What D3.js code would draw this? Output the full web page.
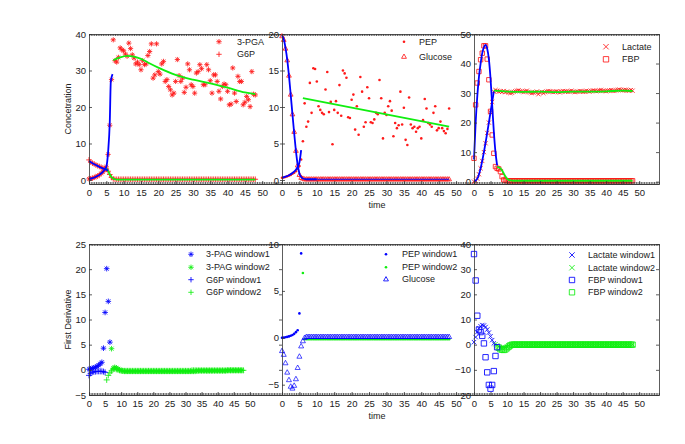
<!DOCTYPE html>
<html>
<head>
<meta charset="utf-8">
<title>derivatives</title>
<style>
  body { margin: 0; background: #fff; }
  svg { font-family: "Liberation Sans", Arial, sans-serif; }
  .lab { font-size: 9px; fill: #222; }
</style>
</head>
<body>
<svg id="chart" width="685" height="444"></svg>
<script src="https://cdnjs.cloudflare.com/ajax/libs/d3/7.8.5/d3.min.js"></script>
<script>
// sampling step of every series (time units)
const STEP = 0.5;
const xMajor = [0, 5, 10, 15, 20, 25, 30, 35, 40, 45, 50];

// ---------- top left : 3-PGA / G6P ----------
const pgaW1 = [0.3,0.4,0.5,0.7,0.9,1.1,1.4,1.8,2.2,2.8,3.6,7.0,15.0,27.5];   // t 0..6.5
const pgaW2 = [38.4,32.7,32.3,33.6,36.2,35.7,35.4,34.5,33.9,37.5,
  36.0,34.3,33.4,31.8,32.3,31.6,30.2,32.7,31.6,31.8,
  34.1,35.2,37.3,27.9,28.8,37.3,29.7,29.0,31.8,32.5,
  27.0,27.5,25.6,24.7,23.3,23.8,27.0,33.0,28.6,27.0,
  27.9,24.0,25.4,31.8,30.2,26.1,25.6,23.8,29.3,29.7,
  31.6,30.5,26.1,26.1,31.6,30.2,27.2,23.8,28.8,28.8,
  27.0,24.3,22.2,25.6,26.3,26.1,24.3,20.6,20.8,30.7,
  23.8,21.5,28.4,27.0,27.0,20.6,21.3,22.9,22.0,20.1,
  29.7,23.5,23.3];                                                        // t 7..48
const g6pHead = [5.5,4.9,4.6,4.4,4.1,3.9,3.7,3.5,3.3,3.1,3.0,2.4,1.5,0.7,0.3]; // t 0..7
const g6pTail = [0.2,0.2,0.2,0.2,0.2,0.2,0.2,0.2,0.2,0.2,
  0.2,0.2,0.2,0.2,0.2,0.2,0.2,0.2,0.2,0.2,
  0.2,0.2,0.2,0.2,0.2,0.2,0.2,0.2,0.2,0.2,
  0.2,0.2,0.2,0.2,0.2,0.2,0.2,0.2,0.2,0.2,
  0.2,0.2,0.2,0.2,0.2,0.2,0.2,0.2,0.2,0.2,
  0.2,0.2,0.2,0.2,0.2,0.2,0.2,0.2,0.2,0.2,
  0.2,0.2,0.2,0.2,0.2,0.2,0.2,0.2,0.2,0.2,
  0.2,0.2,0.2,0.2,0.2,0.2,0.2,0.2,0.2,0.2,
  0.2,0.2];                                                               // t 7.5..48
const pgaFit1T = [0,1,2,3,4,4.5,5,5.5,6,6.3,6.8];
const pgaFit1V = [0.3,0.5,0.9,1.4,2.2,2.8,3.6,7.5,16,27,29];
const pgaFit2T = [7,9,11,13,15,17,20,25,30,35,40,45,48];
const pgaFit2V = [32.8,33.6,34.0,33.8,33.2,32.2,30.8,28.8,27.5,26.5,25.3,24.0,23.5];
const g6pFit1T = [0,1,2,3,4,5,5.5];
const g6pFit1V = [5.2,4.6,4.1,3.6,3.2,2.8,2.6];
const g6pFit2T = [5,5.5,6,6.5,7,7.5,8,48];
const g6pFit2V = [3.2,2.5,1.5,0.8,0.4,0.2,0.1,0.1];

// ---------- top middle : PEP / Glucose ----------
const pepW1 = [0.3,0.35,0.4,0.5,0.6,0.7,0.85,1.0,1.2,1.5,1.9,2.8];          // t 0..5.5
const pepW2 = [5.3,10.5,7.3,8.0,13.3,9.2,15.3,15.2,13.5,10.1,
  9.6,9.2,9.0,12.4,14.8,9.3,10.7,4.9,9.6,10.8,
  9.2,13.0,8.8,15.0,14.6,14.0,8.6,8.5,11.0,11.7,
  6.9,10.1,6.2,14.1,12.1,7.3,7.9,12.7,11.2,7.9,
  7.8,8.3,9.2,9.0,13.7,11.2,5.7,9.2,8.9,10.1,
  10.8,9.5,6.0,7.8,7.1,7.5,12.1,7.6,9.9,5.5,
  4.8,11.3,7.6,7.1,7.3,6.6,7.1,7.3,5.7,8.2,
  11.1,9.8,7.8,7.6,7.3,9.2,10.1,6.8,7.1,8.0,
  7.1,6.7,6.4,7.0,9.8];                                                   // t 6..48
const glcHead = [19.7,19.2,18.0,16.4,14.3,11.7,9.0,6.6,4.0,2.0,0.7,0.3,0.2]; // t 0..6
const glcTail = [0.1,0.1,0.1,0.1,0.1,0.1,0.1,0.1,0.1,0.1,
  0.1,0.1,0.1,0.1,0.1,0.1,0.1,0.1,0.1,0.1,
  0.1,0.1,0.1,0.1,0.1,0.1,0.1,0.1,0.1,0.1,
  0.1,0.1,0.1,0.1,0.1,0.1,0.1,0.1,0.1,0.1,
  0.1,0.1,0.1,0.1,0.1,0.1,0.1,0.1,0.1,0.1,
  0.1,0.1,0.1,0.1,0.1,0.1,0.1,0.1,0.1,0.1,
  0.1,0.1,0.1,0.1,0.1,0.1,0.1,0.1,0.1,0.1,
  0.1,0.1,0.1,0.1,0.1,0.1,0.1,0.1,0.1,0.1,
  0.1,0.1,0.1,0.1];                                                       // t 6.5..48
const glcFit1T = [0,0.5,1,1.5,2,2.5,3,3.5,4,4.5,5,5.5,6,7,10];
const glcFit1V = [19.8,19.3,18.1,16.5,14.3,11.7,9.0,6.4,4.0,2.1,0.9,0.4,0.2,0.1,0.1];
const glcFit2T = [10,48];
const glcFit2V = [0.1,0.1];
const pepFit1T = [0,1,2,3,4,4.5,5,5.5];
const pepFit1V = [0.3,0.45,0.65,0.95,1.4,1.8,2.4,4.1];
const pepFit2T = [6,48];
const pepFit2V = [11.2,7.3];

// ---------- top right : Lactate / FBP ----------
const lacHead = [0.0,0.3,1.0,2.5,4.5,7.0,10.0,13.0,16.5,20.0,23.5,27.0,30.5]; // t 0..6
const lacTail = [31.0,30.8,30.5,30.6,30.4,30.7,30.3,30.5,30.2,30.0,
  30.1,30.4,30.6,30.8,30.9,30.7,30.5,30.3,30.6,30.8,
  30.4,30.2,30.0,30.1,30.3,30.5,29.6,30.2,30.4,30.0,
  30.3,30.5,30.7,30.6,30.4,30.3,30.5,30.6,30.4,30.2,
  30.5,30.7,30.6,30.5,30.4,30.6,30.8,30.5,30.3,30.4,
  30.5,30.7,30.6,30.4,30.5,30.8,30.6,30.5,30.7,30.9,
  30.8,30.6,30.7,30.9,31.0,30.8,30.7,30.6,30.8,30.9,
  31.0,30.8,30.7,30.9,31.1,31.2,31.0,30.9,31.0,31.1,
  30.9,30.8,31.0,30.8];                                                   // t 6.5..48
const fbpHead = [7.9,26.0,33.4,37.3,41.3,43.5,46.0,46.0,41.5,34.5,
  23.8,15.8,9.6,5.1,4.5,4.3,3.4,1.7,0.6,0.4];                              // t 0..9.5
const fbpTail = [0.3,0.3,0.3,0.3,0.3,0.3,0.3,0.3,0.3,0.3,
  0.3,0.3,0.3,0.3,0.3,0.3,0.3,0.3,0.3,0.3,
  0.3,0.3,0.3,0.3,0.3,0.3,0.3,0.3,0.3,0.3,
  0.3,0.3,0.3,0.3,0.3,0.3,0.3,0.3,0.3,0.3,
  0.3,0.3,0.3,0.3,0.3,0.3,0.3,0.3,0.3,0.3,
  0.3,0.3,0.3,0.3,0.3,0.3,0.3,0.3,0.3,0.3,
  0.3,0.3,0.3,0.3,0.3,0.3,0.3,0.3,0.3,0.3,
  0.3,0.3,0.3,0.3,0.3,0.3,0.3];                                           // t 10..48
const lacFit1T = [0,1,2,3,4,5,6];
const lacFit1V = [0,1,4.5,10,16.5,23.5,30.5];
const lacFit2T = [6,10,15,20,25,30,35,40,45,48];
const lacFit2V = [30.8,30.5,30.4,30.5,30.3,30.5,30.5,30.6,30.8,30.7];
const fbpFit1T = [0,0.5,1,1.5,2,2.5,3,3.5,4,4.5,5,5.5,6,6.5,7];
const fbpFit1V = [7.5,20,29,35.5,40,43.5,45.5,46.3,45,41.5,35,26,17,10,5.5];
const fbpFit2T = [7,7.5,8,8.5,9,9.5,10,10.5,11,12,48];
const fbpFit2V = [5,4.8,4.5,3.8,2.8,1.8,1.0,0.6,0.4,0.3,0.3];

// ---------- bottom left : first derivative 3-PAG / G6P ----------
const dPagW1 = [0.1,0.2,0.3,0.4,0.5,0.7,0.9,1.2,1.5,4.3,11.4,20.1,13.6,5.5]; // t 0..6.5
const dPagW2 = [4.2,0.3,0.5,0.4,0.2,0.0,-0.1,-0.2,-0.3,
  -0.3,-0.3,-0.3,-0.3,-0.3,-0.3,-0.3,-0.3,-0.3,-0.3,
  -0.3,-0.3,-0.3,-0.3,-0.3,-0.3,-0.3,-0.3,-0.3,-0.3,
  -0.3,-0.3,-0.3,-0.3,-0.3,-0.3,-0.3,-0.3,-0.3,-0.3,
  -0.3,-0.3,-0.3,-0.3,-0.3,-0.3,-0.3,-0.3,-0.3,-0.3,
  -0.3,-0.3,-0.3,-0.3,-0.2,-0.2,-0.2,-0.2,-0.2,-0.2,
  -0.2,-0.2,-0.2,-0.2,-0.2,-0.2,-0.2,-0.2,-0.2,-0.2,
  -0.2,-0.2,-0.2,-0.1,-0.1,-0.1,-0.1,-0.1,-0.1,-0.1,
  -0.1,-0.1,-0.1];                                                        // t 7..48
const dG6pW1 = [-1.1,-0.7,-0.5,-0.4,-0.35,-0.3,-0.3,-0.3,-0.3,-0.35,-0.5];    // t 0..5
const dG6pW2 = [-2.0,-1.1,-0.6,-0.2,0.1,0.2,0.1,0.0,-0.1,-0.2,
  -0.2,-0.2,-0.2,-0.2,-0.2,-0.2,-0.2,-0.2,-0.2,-0.2,
  -0.2,-0.2,-0.2,-0.2,-0.2,-0.2,-0.2,-0.2,-0.2,-0.2,
  -0.2,-0.2,-0.2,-0.2,-0.2,-0.2,-0.2,-0.2,-0.2,-0.2,
  -0.2,-0.2,-0.2,-0.2,-0.2,-0.2,-0.2,-0.2,-0.2,-0.2,
  -0.2,-0.2,-0.2,-0.1,-0.1,-0.1,-0.1,-0.1,-0.1,-0.1,
  -0.1,-0.1,-0.1,-0.1,-0.1,-0.1,-0.1,-0.1,-0.1,-0.1,
  -0.1,-0.1,-0.1,-0.1,-0.1,-0.1,-0.1,-0.1,-0.1,-0.1,
  -0.1,-0.1,-0.1,-0.1,-0.1,-0.1];                                         // t 5.5..48

// ---------- bottom middle : first derivative PEP / Glucose ----------
const dPepW1 = [0.0,0.02,0.05,0.1,0.15,0.22,0.3,0.42,0.6,0.8,2.6,9.0];       // t 0..5.5
const dPepW2 = [6.9,
  -0.15,-0.15,-0.15,-0.15,-0.15,-0.15,-0.15,-0.15,-0.15,-0.15,
  -0.15,-0.15,-0.15,-0.15,-0.15,-0.15,-0.15,-0.15,-0.15,-0.15,
  -0.15,-0.15,-0.15,-0.15,-0.15,-0.15,-0.15,-0.15,-0.15,-0.15,
  -0.15,-0.15,-0.15,-0.15,-0.15,-0.15,-0.15,-0.15,-0.15,-0.15,
  -0.15,-0.15,-0.15,-0.15,-0.15,-0.15,-0.15,-0.15,-0.15,-0.15,
  -0.15,-0.15,-0.15,-0.15,-0.15,-0.15,-0.15,-0.15,-0.15,-0.15,
  -0.15,-0.15,-0.15,-0.15,-0.15,-0.15,-0.15,-0.15,-0.15,-0.15,
  -0.15,-0.15,-0.15,-0.15,-0.15,-0.15,-0.15,-0.15,-0.15,-0.15,
  -0.15,-0.15,-0.15,-0.15];                                               // t 6..48
const dGlcHead = [-1.4,-1.8,-2.7,-3.7,-4.5,-5.2,-5.4,-5.1,-4.4,-3.2,-2.0,-0.9,-0.35,0.0,0.1]; // t 0..7
const dGlcTail = [0.1,0.1,0.1,0.1,0.1,0.1,0.1,0.1,0.1,0.1,
  0.1,0.1,0.1,0.1,0.1,0.1,0.1,0.1,0.1,0.1,
  0.1,0.1,0.1,0.1,0.1,0.1,0.1,0.1,0.1,0.1,
  0.1,0.1,0.1,0.1,0.1,0.1,0.1,0.1,0.1,0.1,
  0.1,0.1,0.1,0.1,0.1,0.1,0.1,0.1,0.1,0.1,
  0.1,0.1,0.1,0.1,0.1,0.1,0.1,0.1,0.1,0.1,
  0.1,0.1,0.1,0.1,0.1,0.1,0.1,0.1,0.1,0.1,
  0.1,0.1,0.1,0.1,0.1,0.1,0.1,0.1,0.1,0.1,
  0.1,0.1];                                                               // t 7.5..48

// ---------- bottom right : first derivative Lactate / FBP ----------
const dLacW1 = [1.0,3.0,5.0,6.5,7.3,7.8,7.6,7.0,6.0,4.8,3.3,1.8,0.5];          // t 0..6
const dLacW2 = [0.2,-0.3,-0.8,-1.2,-1.4,-1.3,-1.1,-0.8,-0.4,-0.1,
  0,0,0,0,0,0,0,0,0,0, 0,0,0,0,0,0,0,0,0,0,
  0,0,0,0,0,0,0,0,0,0, 0,0,0,0,0,0,0,0,0,0,
  0,0,0,0,0,0,0,0,0,0, 0,0,0,0,0,0,0,0,0,0,
  0,0,0,0,0,0,0,0,0,0, 0,0,0,0];                                          // t 6.5..48
const dFbpW1 = [36,25.5,11.5,6,5,3.5,0.5,-5,-11,-16,-17.5,-16,-10.5,-4.5,-1];  // t 0..7
const dFbpW2 = [-1.2,-1.8,-2.0,-2.1,-1.9,-1.4,-0.8,-0.3,
  0,0,0,0,0,0,0,0,0,0, 0,0,0,0,0,0,0,0,0,0,
  0,0,0,0,0,0,0,0,0,0, 0,0,0,0,0,0,0,0,0,0,
  0,0,0,0,0,0,0,0,0,0, 0,0,0,0,0,0,0,0,0,0,
  0,0,0,0,0,0,0,0,0,0, 0,0,0,0];                                          // t 7.5..48

const RED = "#ff1a1a", BLUE = "#0000ff", GREEN = "#10ee10";

function seq(start, vals) { return vals.map((v, i) => ({ t: start + i * STEP, v: v })); }
function knots(ts, vs) { return ts.map((t, i) => ({ t: t, v: vs[i] })); }

const panels = [
  { left: 89, right: 283, top: 34, bottom: 184, xMax: 56, yDom: [-1.1, 40], yTicks: [0, 10, 20, 30, 40],
    ylabel: "Concetration",
    marks: [
      { pts: seq(0, pgaW1).concat(seq(7, pgaW2)), sym: "star", c: RED, r: 2.6 },
      { pts: seq(0, g6pHead).concat(seq(7.5, g6pTail)), sym: "plus", c: RED, r: 2.8 }],
    lines: [
      { pts: knots(g6pFit2T, g6pFit2V), c: GREEN }, { pts: knots(pgaFit2T, pgaFit2V), c: GREEN },
      { pts: knots(pgaFit1T, pgaFit1V), c: BLUE }, { pts: knots(g6pFit1T, g6pFit1V), c: BLUE }],
    legend: { mx: 219, tx: 237, rows: [[41.7, "star", RED, "3-PGA"], [54.3, "plus", RED, "G6P"]] } },
  { left: 282, right: 477, top: 34, bottom: 184, xMax: 56, yDom: [-0.55, 20], yTicks: [0, 5, 10, 15, 20],
    xlabel: "time",
    marks: [
      { pts: seq(0, pepW1).concat(seq(6, pepW2)), sym: "dot", c: RED, r: 1.3 },
      { pts: seq(0, glcHead).concat(seq(6.5, glcTail)), sym: "tri", c: RED, r: 2.6 }],
    lines: [
      { pts: knots(pepFit2T, pepFit2V), c: GREEN }, { pts: knots(glcFit2T, glcFit2V), c: BLUE, w: 1 },
      { pts: knots(glcFit1T, glcFit1V), c: BLUE }, { pts: knots(pepFit1T, pepFit1V), c: BLUE }],
    legend: { mx: 404, tx: 419, rows: [[41.7, "dot", RED, "PEP"], [56.7, "tri", RED, "Glucose"]] } },
  { left: 474, right: 659, top: 34, bottom: 184, xMax: 56, yDom: [-0.8, 50], yTicks: [0, 10, 20, 30, 40, 50],
    marks: [
      { pts: seq(0, lacHead).concat(seq(6.5, lacTail)), sym: "cross", c: RED, r: 2.1 },
      { pts: seq(0, fbpHead).concat(seq(10, fbpTail)), sym: "square", c: RED, r: 2.2 }],
    lines: [
      { pts: knots(lacFit2T, lacFit2V), c: GREEN }, { pts: knots(fbpFit2T, fbpFit2V), c: GREEN },
      { pts: knots(lacFit1T, lacFit1V), c: BLUE }, { pts: knots(fbpFit1T, fbpFit1V), c: BLUE }],
    legend: { mx: 606, tx: 622, rows: [[46.7, "cross", RED, "Lactate"], [59.3, "square", RED, "FBP"]] } },
  { left: 89, right: 282, top: 244, bottom: 395, xMax: 60, yDom: [-5, 25], yTicks: [-5, 0, 5, 10, 15, 20, 25],
    ylabel: "First Derivative",
    marks: [
      { pts: seq(7, dPagW2), sym: "star", c: GREEN, r: 2.8 },
      { pts: seq(5.5, dG6pW2), sym: "plus", c: GREEN, r: 3 },
      { pts: seq(0, dG6pW1), sym: "plus", c: BLUE, r: 3 },
      { pts: seq(0, dPagW1), sym: "star", c: BLUE, r: 2.8 }],
    lines: [],
    legend: { mx: 191, tx: 206, rows: [[254.3, "star", BLUE, "3-PAG window1"], [267.3, "star", GREEN, "3-PAG window2"],
      [279.7, "plus", BLUE, "G6P window1"], [292.3, "plus", GREEN, "G6P window2"]] } },
  { left: 282, right: 477, top: 244, bottom: 395, xMax: 56, yDom: [-6.1, 10], yTicks: [-5, 0, 5, 10],
    xlabel: "time",
    marks: [
      { pts: seq(6, dPepW2), sym: "dot", c: GREEN, r: 1.3 },
      { pts: seq(0, dGlcHead).concat(seq(7.5, dGlcTail)), sym: "tri", c: BLUE, r: 2.8, sw: 0.7 },
      { pts: seq(0, dPepW1), sym: "dot", c: BLUE, r: 1.3 }],
    lines: [],
    legend: { mx: 386, tx: 402, rows: [[254.3, "dot", BLUE, "PEP window1"], [267.3, "dot", GREEN, "PEP window2"],
      [279.3, "tri", BLUE, "Glucose"]] } },
  { left: 474, right: 659, top: 244, bottom: 395, xMax: 56, yDom: [-20, 40], yTicks: [-20, -10, 0, 10, 20, 30, 40],
    marks: [
      { pts: seq(6.5, dLacW2), sym: "cross", c: GREEN, r: 2.2 },
      { pts: seq(7.5, dFbpW2), sym: "square", c: GREEN, r: 2.7 },
      { pts: seq(0, dLacW1), sym: "cross", c: BLUE, r: 2.2 },
      { pts: seq(0, dFbpW1), sym: "square", c: BLUE, r: 2.7 }],
    lines: [],
    legend: { mx: 572, tx: 588, rows: [[255, "cross", BLUE, "Lactate window1"], [267.7, "cross", GREEN, "Lactate window2"],
      [280, "square", BLUE, "FBP window1"], [292.3, "square", GREEN, "FBP window2"]] } }
];

function markerPath(type, r) {
  const d = r * 0.72;
  switch (type) {
    case "star": return `M${-r},0H${r}M0,${-r}V${r}M${-d},${-d}L${d},${d}M${-d},${d}L${d},${-d}`;
    case "plus": return `M${-r},0H${r}M0,${-r}V${r}`;
    case "cross": return `M${-r},${-r}L${r},${r}M${-r},${r}L${r},${-r}`;
    case "square": return `M${-r},${-r}H${r}V${r}H${-r}Z`;
    case "tri": return `M0,${-r}L${r * 0.9},${r * 0.6}L${-r * 0.9},${r * 0.6}Z`;
    default: return d3.symbol(d3.symbolCircle, Math.PI * r * r)();
  }
}

const svg = d3.select("#chart");

function drawPanel(p) {
  const x = d3.scaleLinear().domain([0, p.xMax]).range([p.left, p.right]);
  const y = d3.scaleLinear().domain(p.yDom).range([p.bottom, p.top]);
  const g = svg.append("g");

  g.append("rect")
    .attr("x", p.left).attr("y", p.top)
    .attr("width", p.right - p.left).attr("height", p.bottom - p.top)
    .attr("fill", "#fff");

  p.marks.forEach(m => {
    g.append("g").selectAll("path")
      .data(m.pts)
      .join("path")
      .attr("transform", d => `translate(${x(d.t)},${y(d.v)})`)
      .attr("d", markerPath(m.sym, m.r))
      .attr("fill", m.sym === "dot" ? m.c : "none")
      .attr("stroke", m.sym === "dot" ? "none" : m.c)
      .attr("stroke-width", m.sw || 0.85);
  });

  const line = d3.line().x(d => x(d.t)).y(d => y(d.v)).curve(d3.curveMonotoneX);
  p.lines.forEach(l => {
    g.append("path")
      .datum(l.pts)
      .attr("d", line)
      .attr("fill", "none")
      .attr("stroke", l.c)
      .attr("stroke-width", l.w || 1.8);
  });

  const minor = d3.range(0, p.xMax + 0.001, STEP);
  const axes = [
    g.append("g").attr("transform", `translate(0,${p.bottom})`)
      .call(d3.axisBottom(x).tickValues(xMajor).tickSize(-3).tickSizeOuter(0).tickPadding(5)),
    g.append("g").attr("transform", `translate(0,${p.bottom})`)
      .call(d3.axisBottom(x).tickValues(minor).tickSize(-2).tickSizeOuter(0).tickFormat("")),
    g.append("g").attr("transform", `translate(0,${p.top})`)
      .call(d3.axisTop(x).tickValues(minor).tickSize(-2).tickSizeOuter(0).tickFormat("")),
    g.append("g").attr("transform", `translate(${p.left},0)`)
      .call(d3.axisLeft(y).tickValues(p.yTicks).tickSize(-3).tickSizeOuter(0).tickPadding(3)),
    g.append("g").attr("transform", `translate(${p.right},0)`)
      .call(d3.axisRight(y).tickValues(p.yTicks).tickSize(-3).tickSizeOuter(0).tickFormat(""))
  ];
  axes.forEach(a => {
    a.selectAll("path, line").attr("stroke", "#333").attr("stroke-width", 0.8);
    a.selectAll("text").attr("class", "lab").attr("fill", "#222")
      .style("font-family", "Liberation Sans, Arial, sans-serif").style("font-size", "9.5px");
  });

  const lg = g.append("g");
  p.legend.rows.forEach(row => {
    const [yy, sym, c, label] = row;
    lg.append("path")
      .attr("transform", `translate(${p.legend.mx},${yy})`)
      .attr("d", markerPath(sym, sym === "dot" ? 1.3 : 2.7))
      .attr("fill", sym === "dot" ? c : "none")
      .attr("stroke", sym === "dot" ? "none" : c)
      .attr("stroke-width", 0.85);
    lg.append("text").attr("class", "lab")
      .attr("x", p.legend.tx).attr("y", yy).attr("dy", "0.35em")
      .text(label);
  });

  if (p.ylabel) {
    g.append("text").attr("class", "lab")
      .attr("transform", `translate(71,${(p.top + p.bottom) / 2}) rotate(-90)`)
      .attr("text-anchor", "middle")
      .text(p.ylabel);
  }
  if (p.xlabel) {
    g.append("text").attr("class", "lab")
      .attr("x", 377).attr("y", p.bottom + 24)
      .attr("text-anchor", "middle")
      .text(p.xlabel);
  }
}

panels.forEach(drawPanel);
</script>
</body>
</html>
